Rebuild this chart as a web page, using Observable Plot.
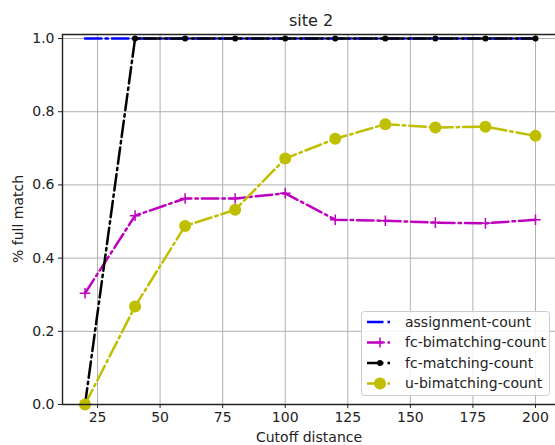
<!DOCTYPE html>
<html>
<head>
<meta charset="utf-8">
<script src="https://cdn.jsdelivr.net/npm/d3@7"></script>
<script src="https://cdn.jsdelivr.net/npm/@observablehq/plot@0.6"></script>
<style>
  html, body { margin: 0; padding: 0; background: white; }
</style>
</head>
<body>
<div id="chart"></div>
<script>
const title = "site 2";
const xLabel = "Cutoff distance";
const yLabel = "% full match";
const cutoffs = [20, 40, 60, 80, 100, 120, 140, 160, 180, 200];
const assignmentCount = [1, 1, 1, 1, 1, 1, 1, 1, 1, 1];
const fcBimatchingCount = [0.304, 0.516, 0.563, 0.563, 0.577, 0.505, 0.502, 0.497, 0.495, 0.505];
const fcMatchingCount = [0.0, 1, 1, 1, 1, 1, 1, 1, 1, 1];
const uBimatchingCount = [0.0, 0.268, 0.488, 0.532, 0.672, 0.726, 0.766, 0.757, 0.759, 0.734];
const seriesNames = ["assignment-count", "fc-bimatching-count", "fc-matching-count", "u-bimatching-count"];
const seriesColors = ["#0000ff", "#bf00bf", "#000000", "#bfbf00"];
const xTicks = [25, 50, 75, 100, 125, 150, 175, 200];
const yTicks = [0, 0.2, 0.4, 0.6, 0.8, 1.0];

const seriesValues = [assignmentCount, fcBimatchingCount, fcMatchingCount, uBimatchingCount];
const rows = seriesNames.map((name, i) => cutoffs.map((x, j) => ({x, y: seriesValues[i][j], name})));

const dash = "16.5,4,2.5,4";
const lw = 2.5;
const xDomain = [11, 208];
const yDomain = [0, 1.011];

const marks = [
  Plot.ruleX(xTicks, {stroke: "#b0b0b0", strokeWidth: 1}),
  Plot.ruleY(yTicks, {stroke: "#b0b0b0", strokeWidth: 1}),
];
marks.push(Plot.line(rows[0], {x: "x", y: "y", stroke: seriesColors[0], strokeWidth: lw, strokeDasharray: dash}));
marks.push(Plot.line(rows[1], {x: "x", y: "y", stroke: seriesColors[1], strokeWidth: lw, strokeDasharray: dash}));
marks.push(Plot.dot(rows[1], {x: "x", y: "y", symbol: "plus", r: 3.5, stroke: seriesColors[1], strokeWidth: 1.5}));
marks.push(Plot.line(rows[2], {x: "x", y: "y", stroke: seriesColors[2], strokeWidth: lw, strokeDasharray: dash}));
marks.push(Plot.dot(rows[2], {x: "x", y: "y", r: 3, fill: seriesColors[2], stroke: "none"}));
marks.push(Plot.line(rows[3], {x: "x", y: "y", stroke: seriesColors[3], strokeWidth: lw, strokeDasharray: dash}));
marks.push(Plot.dot(rows[3], {x: "x", y: "y", r: 6, fill: seriesColors[3], stroke: "none"}));
marks.push(Plot.ruleX([xDomain[0]], {stroke: "#222", strokeWidth: 1.4}));
marks.push(Plot.ruleY([yDomain[0], yDomain[1]], {stroke: "#222", strokeWidth: 1.4}));
marks.push(Plot.text([title], {frameAnchor: "top", lineAnchor: "middle", dx: 2, dy: -14, fontSize: 16, fill: "#222"}));

const chart = Plot.plot({
  width: 555,
  height: 445,
  marginLeft: 62,
  marginRight: 0,
  marginTop: 34,
  marginBottom: 41,
  style: {fontFamily: "DejaVu Sans", fontSize: "14px", background: "white", color: "#222", overflow: "visible"},
  x: {domain: xDomain, ticks: xTicks, tickSize: 4, tickPadding: 4, label: null},
  y: {domain: yDomain, ticks: yTicks, tickSize: 4, tickPadding: 4, tickFormat: d3.format(".1f"), label: null},
  marks
});
document.getElementById("chart").appendChild(chart);

const svg = d3.select(chart);
svg.append("text").attr("x", 309).attr("y", 437).attr("dy", "0.35em").attr("text-anchor", "middle")
  .attr("font-family", "DejaVu Sans").attr("font-size", 14).attr("fill", "#222").text(xLabel);
svg.append("text").attr("transform", "translate(18,219) rotate(-90)").attr("dy", "0.35em").attr("text-anchor", "middle")
  .attr("font-family", "DejaVu Sans").attr("font-size", 14).attr("fill", "#222").text(yLabel);

const lg = svg.append("g").attr("font-family", "DejaVu Sans").attr("font-size", 14).attr("text-anchor", "start");
lg.append("rect").attr("x", 361.5).attr("y", 311.5).attr("width", 188).attr("height", 84).attr("rx", 3)
  .attr("fill", "white").attr("fill-opacity", 0.85).attr("stroke", "#cccccc");
const rowY = [322, 342.5, 363, 383.5];
seriesNames.forEach((name, i) => {
  const y = rowY[i];
  lg.append("line").attr("x1", 367).attr("x2", 394).attr("y1", y).attr("y2", y)
    .attr("stroke", seriesColors[i]).attr("stroke-width", lw).attr("stroke-dasharray", dash);
  const cx = 380;
  if (i === 1) {
    lg.append("path").attr("d", `M${cx-5},${y}H${cx+5}M${cx},${y-5}V${y+5}`).attr("stroke", seriesColors[i]).attr("stroke-width", 1.5);
  } else if (i === 2) {
    lg.append("circle").attr("cx", cx).attr("cy", y).attr("r", 3).attr("fill", seriesColors[i]);
  } else if (i === 3) {
    lg.append("circle").attr("cx", cx).attr("cy", y).attr("r", 6).attr("fill", seriesColors[i]);
  }
  lg.append("text").attr("x", 405).attr("y", y).attr("dy", "0.35em").attr("fill", "#222").text(name);
});
</script>
</body>
</html>
